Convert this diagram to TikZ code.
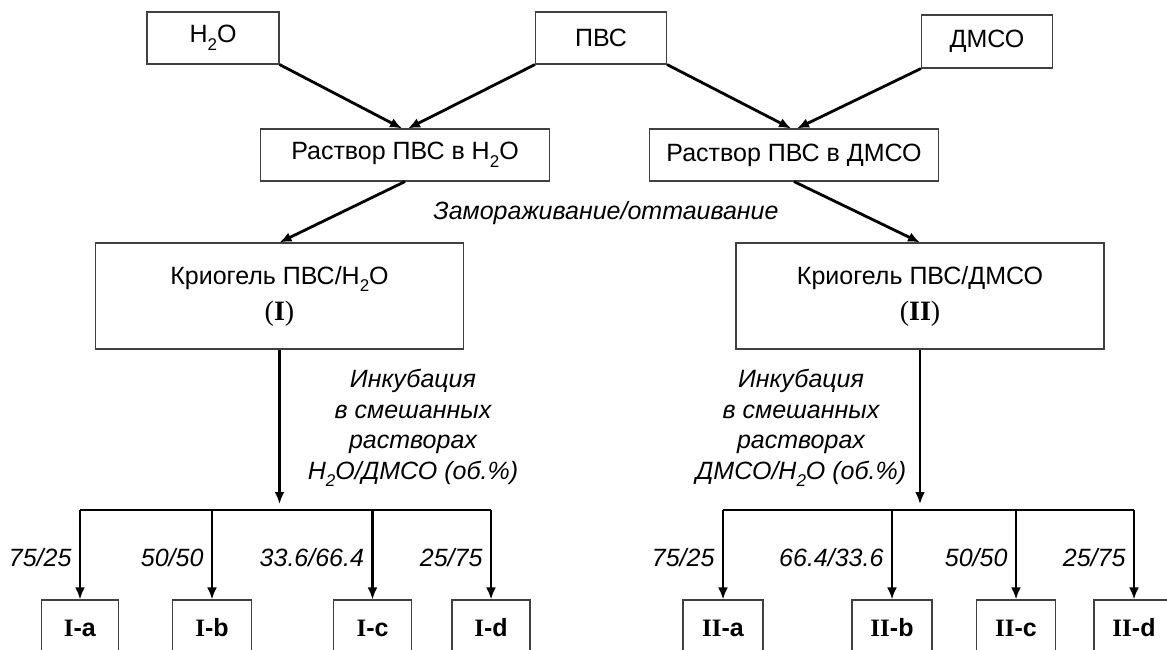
\documentclass[tikz,border=0pt]{standalone}
\usepackage{fontspec}
\setmainfont{Liberation Sans}
\newfontfamily\romfont{Liberation Serif}
\usetikzlibrary{arrows.meta}
\newcommand{\boxcolor}{black!75}
\newcommand{\arrowwidth}{2.8pt}
\newcommand{\rom}[1]{{\romfont\bfseries #1}}
\newcommand{\low}[1]{\raisebox{-0.3em}{\fontsize{17}{17}\selectfont #1}}

\begin{document}
\begin{tikzpicture}[x=1pt,y=-1pt,
  font=\fontsize{25}{30}\selectfont,
  box/.style={draw=\boxcolor,line width=1.1pt,inner sep=0pt,align=center},
  arr/.style={line width=\arrowwidth,-{Latex[length=12pt,width=10pt]}},
  bar/.style={line width=\arrowwidth},
  note/.style={font=\fontsize{25}{30.5}\selectfont\itshape,align=center}]
\useasboundingbox (0,0) rectangle (1167,650);
\clip (0,0) rectangle (1167,650);
% top row
\node[box,minimum width=132pt,minimum height=52pt] (h2o) at (213,38) {H\low{2}O};
\node[box,minimum width=131pt,minimum height=52pt] (pvs) at (601,38) {ПВС};
\node[box,minimum width=131pt,minimum height=53pt] (dmso) at (987,41.5) {ДМСО};
% solutions
\node[box,minimum width=289pt,minimum height=52pt] (rh2o) at (405,155) {Раствор ПВС в H\low{2}O};
\node[box,minimum width=289pt,minimum height=52pt] (rdmso) at (794,155) {Раствор ПВС в ДМСО};
\draw[arr] (h2o.south east) -- ([xshift=-3pt]rh2o.north);
\draw[arr] (pvs.south west) -- ([xshift=3pt]rh2o.north);
\draw[arr] (pvs.south east) -- ([xshift=-3pt]rdmso.north);
\draw[arr] (dmso.south west) -- ([xshift=3pt]rdmso.north);
% cryogels
\node[box,minimum width=368pt,minimum height=106pt] (krI) at (279.5,296)
  {Криогель ПВС/H\low{2}O\\[6pt]{\romfont\fontsize{28}{30}\selectfont(\textbf{I})}};
\node[box,minimum width=368pt,minimum height=106pt] (krII) at (920,296)
  {Криогель ПВС/ДМСО\\[6pt]{\romfont\fontsize{28}{30}\selectfont(\textbf{II})}};
\draw[arr] (rh2o.south) -- (krI.north);
\draw[arr] (rdmso.south) -- (krII.north);
\node[note] (ft) at (606,213) {Замораживание/оттаивание};
% incubation
\node[note] (incI) at (413,428) {Инкубация\\в смешанных\\растворах\\H\low{2}O/ДМСО (об.\%)};
\node[note] (incII) at (801,428) {Инкубация\\в смешанных\\растворах\\ДМСО/H\low{2}O (об.\%)};
% samples I
\node[box,minimum width=77pt,minimum height=56pt] (Ia) at (80,628) {\rom{I}\textbf{-a}};
\node[box,minimum width=79pt,minimum height=56pt] (Ib) at (212,628) {\rom{I}\textbf{-b}};
\node[box,minimum width=78pt,minimum height=56pt] (Ic) at (372.5,628) {\rom{I}\textbf{-c}};
\node[box,minimum width=78pt,minimum height=56pt] (Id) at (491,628) {\rom{I}\textbf{-d}};
% samples II
\node[box,minimum width=80pt,minimum height=56pt] (IIa) at (723,628) {\rom{II}\textbf{-a}};
\node[box,minimum width=80pt,minimum height=56pt] (IIb) at (892,628) {\rom{II}\textbf{-b}};
\node[box,minimum width=79pt,minimum height=56pt] (IIc) at (1016,628) {\rom{II}\textbf{-c}};
\node[box,minimum width=80pt,minimum height=56pt] (IId) at (1134,628) {\rom{II}\textbf{-d}};
% distribution bars
\coordinate (barI) at (279.5,510);
\coordinate (barII) at (920,510);
\draw[arr] (krI.south) -- ([yshift=6pt]barI);
\draw[arr] (krII.south) -- ([yshift=6pt]barII);
\draw[bar] (Ia.north |- barI) -- (Id.north |- barI);
\draw[bar] (IIa.north |- barII) -- (IId.north |- barII);
\foreach \s/\r in {Ia/75\slash 25,Ib/50\slash 50,Ic/33.6\slash 66.4,Id/25\slash 75}{
  \draw[arr] (\s.north |- barI) -- (\s.north);
  \node[note,anchor=east] (r\s) at ([xshift=-5pt,yshift=-48pt]\s.north |- barI) {\r};
}
\foreach \s/\r in {IIa/75\slash 25,IIb/66.4\slash 33.6,IIc/50\slash 50,IId/25\slash 75}{
  \draw[arr] (\s.north |- barII) -- (\s.north);
  \node[note,anchor=east] (r\s) at ([xshift=-5pt,yshift=-48pt]\s.north |- barII) {\r};
}
\end{tikzpicture}
\end{document}
